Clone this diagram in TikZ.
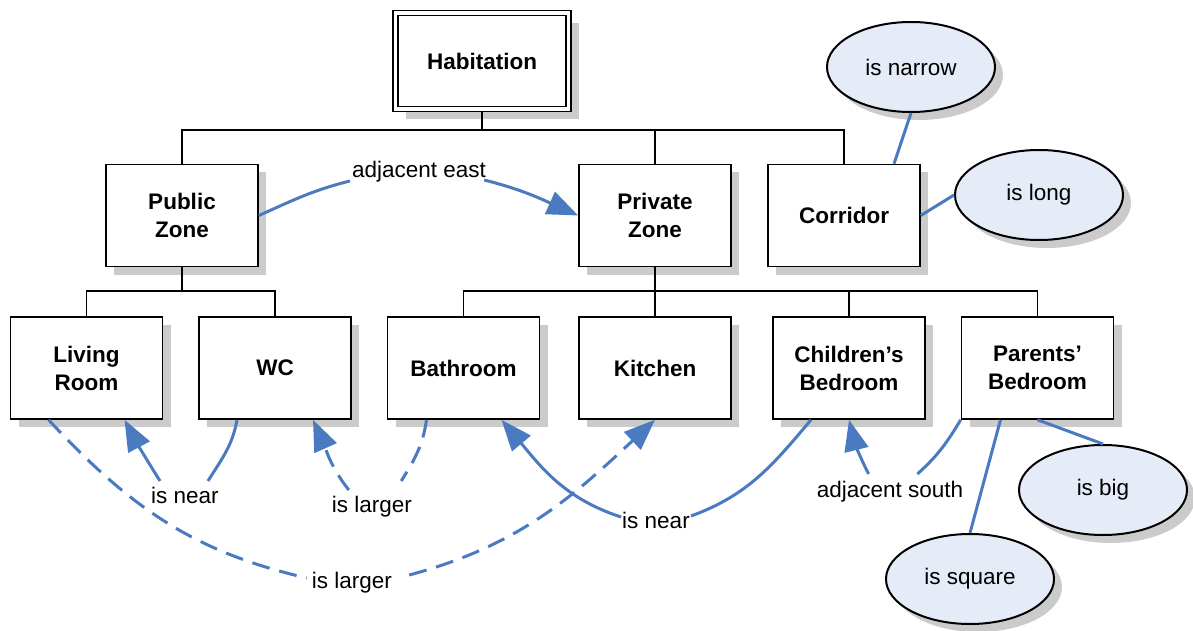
\documentclass[tikz,border=0pt]{standalone}
\usepackage{fontspec}
\setmainfont{Liberation Sans}
\usetikzlibrary{arrows.meta,shapes.geometric,shadows}
\definecolor{relblue}{HTML}{4A7AC0}
\definecolor{shadowgray}{HTML}{CBCBCB}
\definecolor{notefill}{HTML}{E6ECF7}
\begin{document}
\begin{tikzpicture}[x=1pt,y=1pt,
  boxshadow/.style={drop shadow={shadow xshift=8pt,shadow yshift=-8pt,fill=shadowgray,opacity=1}},
  zone/.style={draw=black, line width=1.6pt, fill=white, minimum width=152pt,
    minimum height=102pt, align=center, inner sep=2pt,
    font=\fontsize{22.5}{28}\selectfont\bfseries, boxshadow},
  root/.style={draw=black, double, line width=1.5pt, double distance=3.5pt, fill=white,
    minimum width=173pt, minimum height=96pt, outer sep=0pt,
    font=\fontsize{22.5}{28}\selectfont\bfseries,
    drop shadow={shadow xshift=10pt,shadow yshift=-10pt,fill=shadowgray,opacity=1}},
  note/.style={ellipse, draw=black, line width=2pt, fill=notefill, minimum width=168pt,
    minimum height=90pt, inner sep=0pt, font=\fontsize{22.5}{27}\selectfont, boxshadow},
  lbl/.style={inner sep=0pt, anchor=base, font=\fontsize{22.5}{27}\selectfont},
  tree/.style={draw=black, line width=1.5pt},
  stem/.style={draw=black, line width=2.5pt},
  rel/.style={draw=relblue, line width=3pt},
  dep/.style={rel, dash pattern=on 18pt off 10pt},
  tip/.style={-{Triangle[length=31pt,width=24pt]}}
]
\useasboundingbox (0,0) rectangle (1193,-631);

% hierarchy of rooms
\node[root] (hab) at (482,-61) {Habitation};
\node[zone] (pz)  at (182,-215.5) {Public\\Zone};
\node[zone] (prz) at (655,-215.5) {Private\\Zone};
\node[zone] (cor) at (844,-215.5) {Corridor};
\node[zone] (lr)  at (86.5,-368) {Living\\Room};
\node[zone] (wc)  at (275,-368) {WC};
\node[zone] (bath) at (463.5,-368) {Bathroom};
\node[zone] (kit) at (655,-368) {Kitchen};
\node[zone] (cb)  at (849,-368) {Children’s\\Bedroom};
\node[zone] (pb)  at (1037.5,-368) {Parents’\\Bedroom};

% properties
\node[note] (nar) at (911,-67) {is narrow};
\node[note] (lng) at (1039,-195) {is long};
\node[note] (big) at (1103,-490) {is big};
\node[note] (sq)  at (970,-579) {is square};

% tree connectors
\coordinate (bus0) at (482,-130);
\coordinate (bus1) at (182,-291);
\coordinate (bus2) at (655,-291);
\draw[stem] ([yshift=-3.25pt]hab.south) -- (bus0);
\draw[tree] (pz.north) |- (bus0);
\draw[tree] (prz.north) |- (bus0);
\draw[tree] (cor.north) |- (bus0);
\draw[stem] (pz.south) -- (bus1);
\draw[tree] (lr.north) |- (bus1);
\draw[tree] (wc.north) |- (bus1);
\draw[stem] (prz.south) -- (bus2);
\draw[tree] (bath.north) |- (bus2);
\draw[tree] (kit.north) |- (bus2);
\draw[tree] (cb.north) |- (bus2);
\draw[tree] (pb.north) |- (bus2);

% property links
\draw[rel] ([xshift=50pt]cor.north) -- (nar.south);
\draw[rel] (cor.east) -- (lng.west);
\draw[rel] ([xshift=-37pt]pb.south) -- (sq.north);
\draw[rel] (pb.south) -- (big.north);

% relation labels
\node[lbl] (le)  at (419,-178) {adjacent east};
\node[lbl] (ln1) at (185,-503) {is near};
\node[lbl] (lg1) at (372,-512) {is larger};
\node[lbl] (lg2) at (352,-588) {is larger};
\node[lbl] (ln2) at (656,-528) {is near};
\node[lbl] (ls)  at (890,-497) {adjacent south};

% relations
\draw[rel] (pz.east) to[out=24,in=194] ([shift={(-2,-3)}]le.base west);
\draw[rel,tip] ([shift={(-2,-2)}]le.base east) to[out=-14,in=156] (prz.west);

\draw[rel] ([xshift=-38pt]wc.south) to[out=-100,in=58] ([shift={(-11,22)}]ln1.base east);
\draw[rel,tip] ([shift={(9,22)}]ln1.base west) to[out=122,in=-62] ([xshift=38pt]lr.south);

\draw[dep] ([xshift=-37pt]bath.south) to[out=-98,in=58] ([shift={(-11,31)}]lg1.base east);
\draw[dep,tip] ([shift={(17,22)}]lg1.base west) to[out=128,in=-66] ([xshift=38pt]wc.south);

\draw[dep] ([xshift=-38pt]lr.south) to[out=-47,in=167] ([shift={(-5,10)}]lg2.base west);
\draw[dep,tip] ([shift={(17,13)}]lg2.base east) to[out=15,in=-137] (kit.south);

\draw[rel] ([xshift=-38pt]cb.south) to[out=-130,in=20] ([shift={(1,12)}]ln2.base east);
\draw[rel,tip] ([shift={(-1,11)}]ln2.base west) to[out=162,in=-50] ([xshift=38pt]bath.south);

\draw[rel] (pb.south west) to[out=-121,in=42] ([shift={(-46,23)}]ls.base east);
\draw[rel,tip] ([shift={(52,23)}]ls.base west) to[out=117,in=-76] (cb.south);
\end{tikzpicture}
\end{document}
